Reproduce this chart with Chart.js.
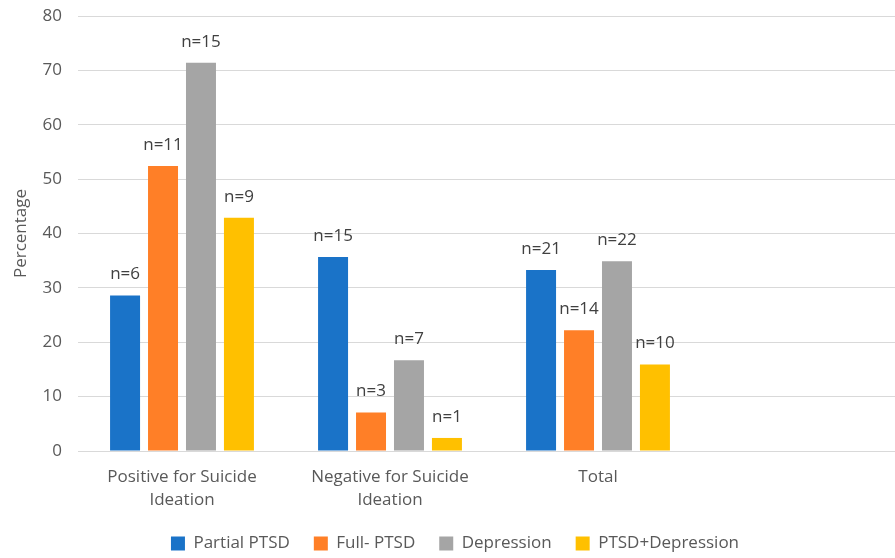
<!DOCTYPE html>
<html>
<head>
<meta charset="utf-8">
<script src="https://cdn.jsdelivr.net/npm/chart.js@4"></script>
<style>
  html, body { margin: 0; padding: 0; background: #fff; overflow: hidden; }
  #wrap { width: 910px; height: 558px; }
</style>
</head>
<body>
<div id="wrap"><canvas id="chart" width="910" height="558"></canvas></div>
<script>
// data (percentages), n labels above bars
const kategori = [['Positive for Suicide', 'Ideation'], ['Negative for Suicide', 'Ideation'], 'Total', ''];
const partialPTSD = [28.6, 35.7, 33.3, null];
const fullPTSD = [52.4, 7.1, 22.2, null];
const depresi = [71.4, 16.7, 34.9, null];
const ptsdDepresi = [42.9, 2.4, 15.9, null];
const nPartial = [6, 15, 21];
const nFull = [11, 3, 14];
const nDepresi = [15, 7, 22];
const nPtsdDepresi = [9, 1, 10];
const yTicks = [0, 10, 20, 30, 40, 50, 60, 70, 80];

const FONT = '"Open Sans", "DejaVu Sans", sans-serif';
const TEXT_COLOR = '#595959';

// label n=.. di atas batang
const labelN = {
  id: 'labelN',
  afterDatasetsDraw(chart) {
    const ctx = chart.ctx;
    ctx.save();
    ctx.font = '17px ' + FONT;
    ctx.fillStyle = '#404040';
    ctx.textAlign = 'center';
    ctx.textBaseline = 'middle';
    chart.data.datasets.forEach((ds, i) => {
      const meta = chart.getDatasetMeta(i);
      meta.data.forEach((bar, j) => {
        if (ds.data[j] == null || ds.nLabel[j] == null) return;
        ctx.fillText('n=' + ds.nLabel[j], bar.x, bar.y - 21);
      });
    });
    ctx.restore();
  }
};

new Chart(document.getElementById('chart').getContext('2d'), {
  type: 'bar',
  data: {
    labels: kategori,
    datasets: [
      { label: 'Partial PTSD', data: partialPTSD, nLabel: nPartial, backgroundColor: '#1a73c8' },
      { label: 'Full- PTSD', data: fullPTSD, nLabel: nFull, backgroundColor: '#ff7f27' },
      { label: 'Depression', data: depresi, nLabel: nDepresi, backgroundColor: '#a5a5a5' },
      { label: 'PTSD+Depression', data: ptsdDepresi, nLabel: nPtsdDepresi, backgroundColor: '#ffc000' }
    ]
  },
  options: {
    responsive: false,
    animation: false,
    devicePixelRatio: 1,
    categoryPercentage: 0.73,
    barPercentage: 0.79,
    layout: { padding: { top: 0, right: 0, bottom: 0, left: 0 } },
    plugins: {
      legend: {
        position: 'bottom',
        maxHeight: 47,
        labels: {
          boxWidth: 14, boxHeight: 14, padding: 24,
          color: TEXT_COLOR,
          font: { family: FONT, size: 17 }
        }
      },
      tooltip: { enabled: false }
    },
    scales: {
      x: {
        afterFit: axis => { axis.height = 60; },
        grid: { display: false, drawTicks: false },
        border: { display: true, color: '#d9d9d9', width: 1 },
        ticks: {
          color: TEXT_COLOR, font: { family: FONT, size: 17, lineHeight: 1.35 },
          maxRotation: 0, autoSkip: false, padding: 15
        }
      },
      y: {
        min: 0, max: 80,
        afterBuildTicks: axis => { axis.ticks = yTicks.map(v => ({ value: v })); },
        afterFit: axis => { axis.width = 78; axis.paddingTop = 16; axis.paddingBottom = 10; },
        grid: { color: '#d9d9d9', drawTicks: false },
        border: { display: false },
        ticks: { color: TEXT_COLOR, font: { family: FONT, size: 17 }, padding: 16 },
        title: {
          display: true, text: 'Percentage',
          color: TEXT_COLOR, font: { family: FONT, size: 17 }, padding: { top: 11, bottom: 0 }
        }
      }
    }
  },
  plugins: [labelN]
});
</script>
</body>
</html>
